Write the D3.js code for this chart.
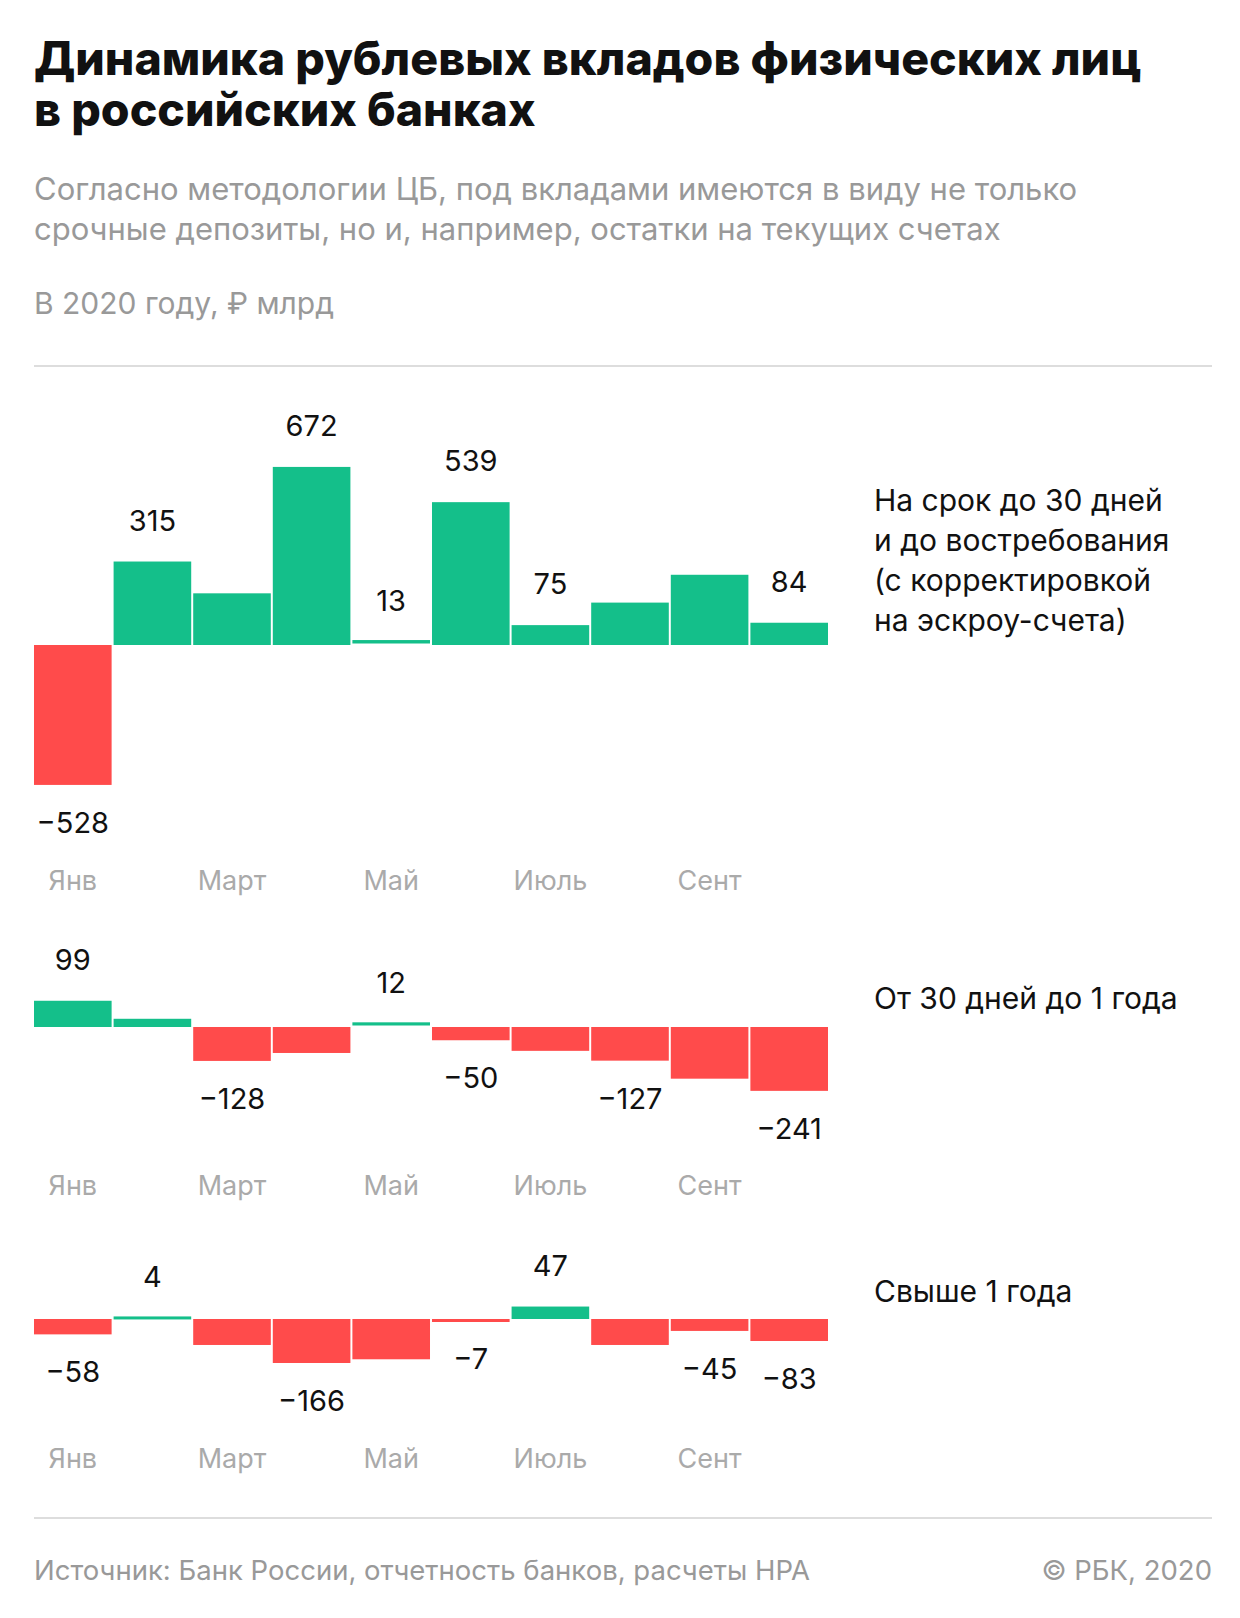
<!DOCTYPE html>
<html><head><meta charset="utf-8">
<script src="https://cdn.jsdelivr.net/npm/d3@7"></script>
<style>body{margin:0;background:#fff}svg{display:block;font-family:Inter,"Noto Sans",sans-serif}</style>
</head><body><div id="wrapper"></div>
<script>
// DATA
const months = ["Янв","Фев","Март","Апр","Май","Июнь","Июль","Авг","Сент","Окт"]
const tickMonths = ["Янв","Март","Май","Июль","Сент"]
const shortTerm = [-528, 315, 195, 672, 13, 539, 75, 160, 265, 84]
const shortLabels = [true, true, false, true, true, true, true, false, false, true]
const midTerm = [99, 31, -128, -98, 12, -50, -90, -127, -195, -241]
const midLabels = [true, false, true, false, true, true, false, true, false, true]
const longTerm = [-58, 4, -98, -166, -152, -7, 47, -98, -45, -83]
const longLabels = [true, true, false, true, false, true, true, false, true, true]
const seriesNames = [
  ["На срок до 30 дней", "и до востребования", "(с корректировкой", "на эскроу-счета)"],
  ["От 30 дней до 1 года"],
  ["Свыше 1 года"]
]

const W = 1240, H = 1618
const svg = d3.select("#wrapper").append("svg").attr("width", W).attr("height", H)

// HEADER
svg.selectAll(".title").data(["Динамика рублевых вкладов физических лиц", "в российских банках"])
  .join("text").attr("x", 34).attr("y", (d, i) => 75 + i * 51)
  .attr("font-size", 46.5).attr("font-weight", 800).attr("fill", "#111").text(d => d)
svg.selectAll(".sub").data(["Согласно методологии ЦБ, под вкладами имеются в виду не только", "срочные депозиты, но и, например, остатки на текущих счетах"])
  .join("text").attr("x", 34).attr("y", (d, i) => 200 + i * 40)
  .attr("font-size", 31).attr("fill", "#999").text(d => d)
svg.append("text").attr("x", 34).attr("y", 314).attr("font-size", 30).attr("fill", "#999").text("В 2020 году, ₽ млрд")
svg.append("line").attr("x1", 34).attr("x2", 1212).attr("y1", 366).attr("y2", 366).attr("stroke", "#ddd").attr("stroke-width", 2)

// SCALES
const xScale = d3.scaleBand().domain(months).range([34, 828]).paddingInner(0.025)
const k = 0.265 // px per billion

const panels = [
  {data: shortTerm, labels: shortLabels, zero: 645, monthY: 893, names: seriesNames[0], nameY: 511},
  {data: midTerm, labels: midLabels, zero: 1027, monthY: 1198, names: seriesNames[1], nameY: 1009},
  {data: longTerm, labels: longLabels, zero: 1319, monthY: 1471, names: seriesNames[2], nameY: 1302}
]

panels.forEach(p => {
  const ext = d3.extent(p.data.concat([0]))
  const yScale = d3.scaleLinear().domain(ext)
    .range([p.zero - ext[0] * k, p.zero - ext[1] * k])
  const g = svg.append("g")
  g.selectAll("rect").data(p.data).join("rect")
    .attr("x", (d, i) => xScale(months[i]))
    .attr("width", xScale.bandwidth())
    .attr("y", d => Math.min(yScale(d), yScale(0)) - (Math.abs(d) < 15 && d >= 0 ? 1.5 : 0))
    .attr("height", d => Math.max(Math.abs(yScale(d) - yScale(0)), 3))
    .attr("fill", d => d >= 0 ? "#14bf8a" : "#ff4b4b")
  g.selectAll(".val").data(p.data.map((d, i) => ({d, i})).filter(o => p.labels[o.i])).join("text")
    .attr("x", o => xScale(months[o.i]) + xScale.bandwidth() / 2)
    .attr("y", o => o.d >= 0 ? yScale(o.d) - 31 : yScale(o.d) + 48)
    .attr("text-anchor", "middle").attr("font-size", 29).attr("fill", "#111")
    .text(o => o.d < 0 ? "−" + Math.abs(o.d) : o.d)
  const xAxis = d3.axisBottom(xScale).tickValues(tickMonths).tickSize(0).tickPadding(0)
  const ax = g.append("g").attr("transform", `translate(0,${p.monthY - 22})`).call(xAxis)
  ax.select(".domain").remove()
  ax.selectAll("text").attr("font-size", 27).attr("fill", "#aaa").attr("font-family", "Inter,'Noto Sans',sans-serif")
  g.selectAll(".name").data(p.names).join("text")
    .attr("x", 874).attr("y", (d, i) => p.nameY + i * 40)
    .attr("font-size", 30).attr("fill", "#111").text(d => d)
})

// FOOTER
svg.append("line").attr("x1", 34).attr("x2", 1212).attr("y1", 1518).attr("y2", 1518).attr("stroke", "#ddd").attr("stroke-width", 2)
svg.append("text").attr("x", 34).attr("y", 1580).attr("font-size", 27.5).attr("fill", "#999").text("Источник: Банк России, отчетность банков, расчеты НРА")
svg.append("text").attr("x", 1212).attr("y", 1580).attr("text-anchor", "end").attr("font-size", 27.5).attr("fill", "#999").text("© РБК, 2020")
</script></body></html>
